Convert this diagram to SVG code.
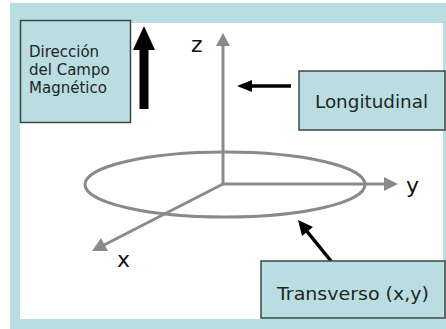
<svg xmlns="http://www.w3.org/2000/svg" width="446" height="329" viewBox="0 0 446 329">
  <style>
    .box { fill: #b9dde0; stroke: #3a4848; stroke-width: 1.5; }
    .lbl { font-family: "DejaVu Sans", Verdana, sans-serif; fill: #1e2626; }
    .axis { stroke: #8a8a8a; stroke-width: 3; fill: none; }
    .axhead { fill: #8a8a8a; }
    .blk { stroke: #000; fill: none; }
    .ax { font-family: "DejaVu Sans", Verdana, sans-serif; font-size: 22px; fill: #111; }
  </style>
  <rect x="10" y="3" width="436" height="326" fill="#b9dee1"/>
  <rect x="20" y="23" width="423" height="296" fill="#ffffff"/>

  <g id="connectors">
    <!-- axes -->
    <line class="axis" x1="223" y1="184" x2="223" y2="44"/>
    <polygon class="axhead" points="223,33 216,46 230,46"/>
    <line class="axis" x1="223" y1="184" x2="385" y2="184"/>
    <polygon class="axhead" points="398,184 384,177 384,191"/>
    <line class="axis" x1="223" y1="184" x2="104" y2="245"/>
    <polygon class="axhead" points="92,251 101,238 108,251"/>
    <ellipse class="axis" cx="225" cy="184.5" rx="140" ry="32.5"/>
    <!-- black arrows -->
    <line class="blk" x1="144" y1="109" x2="144" y2="48" stroke-width="9"/>
    <polygon points="144,26 133,50 155,50" fill="#000"/>
    <line class="blk" x1="291" y1="86" x2="249" y2="86" stroke-width="3.5"/>
    <polygon points="237,86 252,80 252,92" fill="#000"/>
    <line class="blk" x1="331" y1="261" x2="305" y2="229" stroke-width="3.5"/>
    <polygon points="298,220 302,236 313,227" fill="#000"/>
  </g>

  <g id="axis-labels">
    <text class="ax" x="191" y="52">z</text>
    <text class="ax" x="406" y="193">y</text>
    <text class="ax" x="117" y="267">x</text>
  </g>

  <g id="node-campo">
    <rect class="box" x="20.5" y="20.5" width="110" height="102"/>
    <text class="lbl" font-size="15" x="29" y="57">Dirección</text>
    <text class="lbl" font-size="15" x="29" y="75">del Campo</text>
    <text class="lbl" font-size="15" x="29" y="93">Magnético</text>
  </g>

  <g id="node-longitudinal">
    <rect class="box" x="299" y="71" width="146" height="59"/>
    <text class="lbl" font-size="17" x="315" y="108" textLength="113" lengthAdjust="spacingAndGlyphs">Longitudinal</text>
  </g>

  <g id="node-transverso">
    <rect class="box" x="261" y="261" width="184" height="57"/>
    <text class="lbl" font-size="17" x="277" y="300" textLength="152" lengthAdjust="spacingAndGlyphs">Transverso (x,y)</text>
  </g>
</svg>
